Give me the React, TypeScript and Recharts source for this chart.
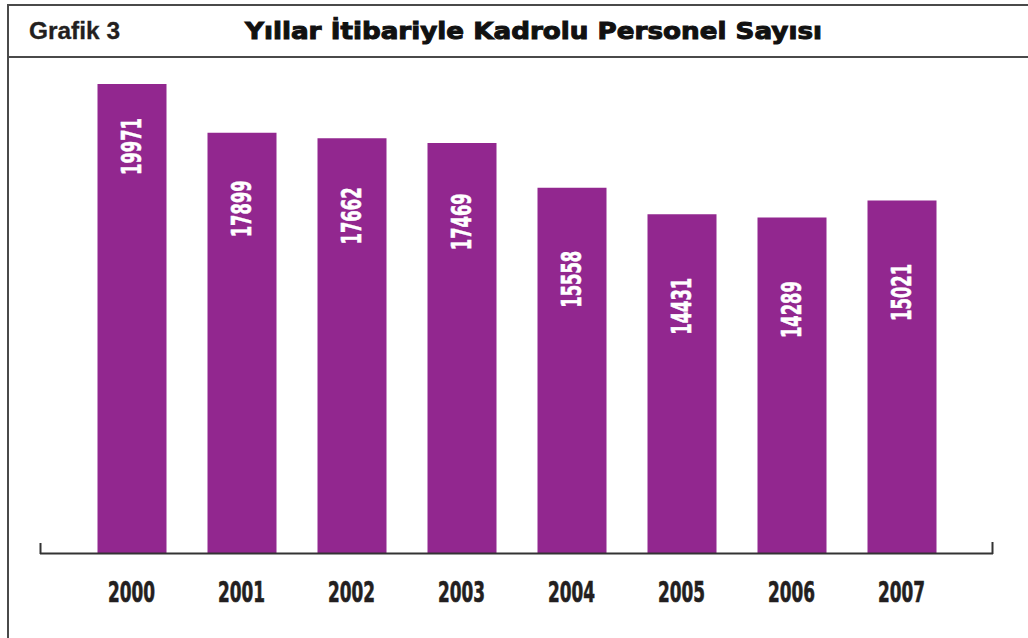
import { Bar, BarChart, LabelList, XAxis, YAxis } from "recharts";

const years = ["2000", "2001", "2002", "2003", "2004", "2005", "2006", "2007"];
const staffCounts = [19971, 17899, 17662, 17469, 15558, 14431, 14289, 15021];

const chartTitle = "Yıllar İtibariyle Kadrolu Personel Sayısı";
const chartNo = "Grafik 3";

const data = years.map((year, i) => ({ year, count: staffCounts[i] }));

const PURPLE = "#92278F";
const INK = "#231F20";
const FRAME = "#4a4a4a";
const NARROW = "'Liberation Sans Narrow', 'DejaVu Sans Condensed', 'Arial Narrow', sans-serif";

// değer etiketi: çubuğun üst kısmında, dikey beyaz yazı
function ValueLabel(props: any) {
  const { x, y, width, height, value } = props;
  const cx = x + width / 2;
  const off = Math.min(92, 62.5 + (469 - height) * 0.28);
  const cy = y + off;
  return (
    <text
      x={cx}
      y={cy}
      transform={`rotate(-90 ${cx} ${cy})`}
      textAnchor="middle"
      dominantBaseline="central"
      fill="#fff"
      stroke="#fff"
      strokeWidth={0.6}
      fontFamily={NARROW}
      fontWeight={700}
      fontSize={27}
      textLength={57}
      lengthAdjust="spacingAndGlyphs"
    >
      {value}
    </text>
  );
}

function YearTick(props: any) {
  const { x, y, payload } = props;
  return (
    <text
      x={x}
      y={y + 49}
      textAnchor="middle"
      fill={INK}
      stroke={INK}
      strokeWidth={0.6}
      fontFamily={NARROW}
      fontWeight={700}
      fontSize={27.5}
      textLength={47}
      lengthAdjust="spacingAndGlyphs"
    >
      {payload.value}
    </text>
  );
}

export default function App() {
  return (
    <div
      style={{
        position: "absolute",
        left: 0,
        top: 0,
        width: 1028,
        height: 638,
        background: "#fff",
        overflow: "hidden",
      }}
    >
      {/* çerçeve ve başlık */}
      <svg width={1028} height={638} style={{ position: "absolute", left: 0, top: 0 }}>
        <line x1={8} y1={5} x2={1028} y2={5} stroke={FRAME} strokeWidth={2} />
        <line x1={8} y1={57} x2={1028} y2={57} stroke={FRAME} strokeWidth={2} />
        <line x1={8} y1={4} x2={8} y2={638} stroke={FRAME} strokeWidth={2} />
        <text
          x={29}
          y={39}
          fill={INK}
          stroke={INK}
          strokeWidth={0.3}
          fontFamily="'Liberation Sans', Arial, sans-serif"
          fontWeight={700}
          fontSize={23}
          textLength={91}
          lengthAdjust="spacingAndGlyphs"
        >
          {chartNo}
        </text>
        <text
          x={245}
          y={39}
          fill="#111"
          stroke="#111"
          strokeWidth={1}
          fontFamily="'DejaVu Sans', sans-serif"
          fontWeight={700}
          fontSize={23}
          textLength={577}
          lengthAdjust="spacingAndGlyphs"
        >
          {chartTitle}
        </text>
        {/* eksen uç çentikleri */}
        <line x1={40.5} y1={543} x2={40.5} y2={554} stroke="#333" strokeWidth={2} />
        <line x1={992.5} y1={542} x2={992.5} y2={554} stroke="#333" strokeWidth={2} />
      </svg>

      <div style={{ position: "absolute", left: 0, top: 0 }}>
        <BarChart
          width={1028}
          height={638}
          data={data}
          margin={{ top: 83.4, right: 35, bottom: 0, left: 40 }}
          barSize={69}
        >
          <XAxis
            dataKey="year"
            height={84.6}
            padding={{ left: 36.5, right: 36.5 }}
            axisLine={{ stroke: "#333", strokeWidth: 2 }}
            tickLine={false}
            tickSize={0}
            tickMargin={0}
            tick={<YearTick />}
            interval={0}
          />
          <YAxis hide domain={[0, 20000]} />
          <Bar dataKey="count" fill={PURPLE} isAnimationActive={false}>
            <LabelList dataKey="count" content={<ValueLabel />} />
          </Bar>
        </BarChart>
      </div>
    </div>
  );
}
